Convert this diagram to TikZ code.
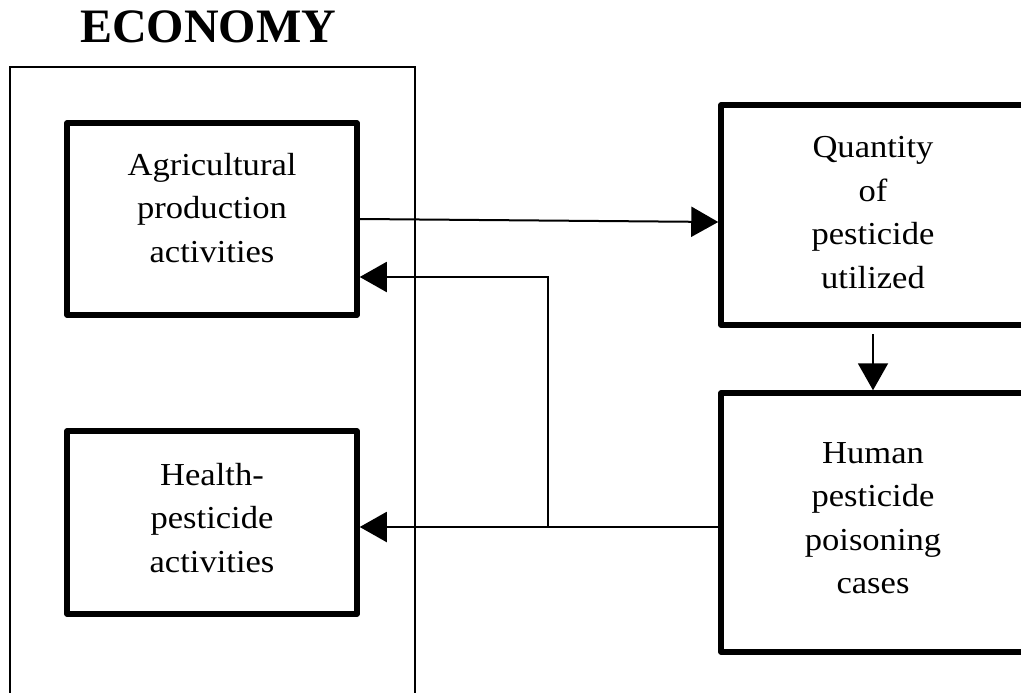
\documentclass[tikz,border=0pt]{standalone}
\usepackage{fontspec}
\setmainfont{Liberation Serif}
\newfontfamily\boxfont[FakeStretch=1.08]{Liberation Serif}
\usetikzlibrary{arrows.meta}
\tikzset{
  thickbox/.style={draw, line width=5.5pt, line join=round, rectangle, inner sep=0pt},
  thinbox/.style={draw, line width=2pt, rectangle, inner sep=0pt},
  txt/.style={align=center, inner sep=0pt, font=\boxfont\fontsize{32}{43.5}\selectfont},
  title/.style={inner sep=0pt, font=\fontsize{48}{50}\selectfont\bfseries, anchor=base},
  arr/.style={line width=2pt, -{Triangle[length=27pt,width=30pt]}}
}
\begin{document}
\begin{tikzpicture}[x=1pt,y=-1pt]
\useasboundingbox (0,0) rectangle (1021,693);
\clip (0,0) rectangle (1021,693);
% title
\node[title] (ttl) at (208,43) {ECONOMY};
% economy frame
\node[thinbox, minimum width=405.5pt, minimum height=653pt] (econ) at (212.25,393.5) {};
% boxes
\node[thickbox, minimum width=290pt, minimum height=192pt] (ag) at (212,219) {};
\node[thickbox, minimum width=290pt, minimum height=183pt] (health) at (212,522.5) {};
\node[thickbox, minimum width=304pt, minimum height=220pt] (q) at (873,215) {};
\node[thickbox, minimum width=304pt, minimum height=259pt] (human) at (873,522.5) {};
% texts
\node[txt] (agt) at (212,207.7) {Agricultural\\production\\activities};
\node[txt] (healtht) at (212,517.7) {Health-\\pesticide\\activities};
\node[txt] (qt) at (873,212.4) {Quantity\\of\\pesticide\\utilized};
\node[txt] (humant) at (873,518.4) {Human\\pesticide\\poisoning\\cases};
% connectors
\coordinate (j) at (548,527);
\draw[arr] (ag.east) -- ([yshift=-7pt]q.west);
\draw[arr] ([yshift=-6.5pt]q.south) -- (human.north);
\draw[arr] (human.west |- j) -- (health.east |- j);
\draw[arr] (j) |- ([yshift=-58pt]ag.east);
\end{tikzpicture}
\end{document}
